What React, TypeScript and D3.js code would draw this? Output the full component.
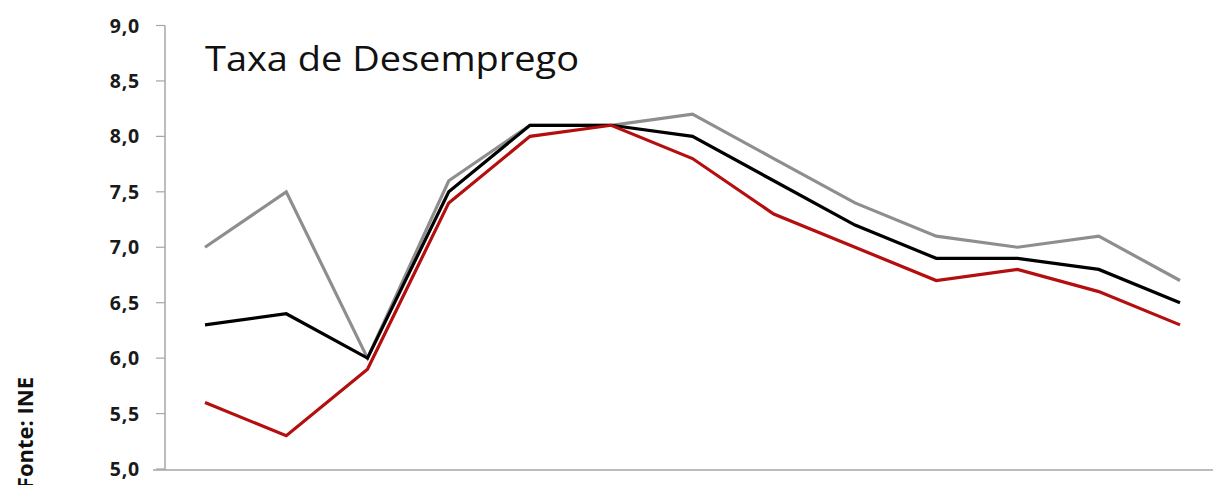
import React from "react";
import * as d3 from "d3";

const categories = ["1", "2", "3", "4", "5", "6", "7", "8", "9", "10", "11", "12", "13"];
const seriesGray = [7.0, 7.5, 6.0, 7.6, 8.1, 8.1, 8.2, 7.8, 7.4, 7.1, 7.0, 7.1, 6.7];
const seriesBlack = [6.3, 6.4, 6.0, 7.5, 8.1, 8.1, 8.0, 7.6, 7.2, 6.9, 6.9, 6.8, 6.5];
const seriesRed = [5.6, 5.3, 5.9, 7.4, 8.0, 8.1, 7.8, 7.3, 7.0, 6.7, 6.8, 6.6, 6.3];
const yTicks = [5.0, 5.5, 6.0, 6.5, 7.0, 7.5, 8.0, 8.5, 9.0];
const title = "Taxa de Desemprego";
const source = "Fonte: INE";

const W = 1215;
const H = 485;

export default function App() {
  const x = d3.scalePoint<string>().domain(categories).range([205, 1180]);
  const y = d3.scaleLinear().domain([5, 9]).range([469, 25.5]);
  const line = d3
    .line<number>()
    .x((_, i) => x(categories[i]) as number)
    .y((d) => y(d));
  const fmt = (v: number) => v.toFixed(1).replace(".", ",");
  const series = [
    { data: seriesGray, color: "#8e8e8e" },
    { data: seriesBlack, color: "#000000" },
    { data: seriesRed, color: "#b40e0e" },
  ];
  const axisColor = "#a6a6a6";
  return (
    <svg
      width={W}
      height={H}
      style={{ position: "absolute", left: 0, top: 0, background: "#fff" }}
    >
      <line x1={165} x2={165} y1={y(9)} y2={470} stroke={axisColor} strokeWidth={1.5} />
      <line x1={153} x2={1213} y1={470} y2={470} stroke={axisColor} strokeWidth={1.5} />
      {yTicks.map((t) => (
        <g key={t}>
          <line x1={156} x2={165} y1={y(t)} y2={y(t)} stroke={axisColor} strokeWidth={1.2} />
          <text
            x={140}
            y={y(t)}
            dy="0.36em"
            textAnchor="end"
            fontFamily="'Open Sans', sans-serif"
            fontWeight={700}
            fontSize={19.5}
            letterSpacing={0.8}
            fill="#1a1a1a"
          >
            {fmt(t)}
          </text>
        </g>
      ))}
      <text
        x={205}
        y={71}
        fontFamily="'Open Sans', sans-serif"
        fontSize={34}
        textLength={374}
        lengthAdjust="spacingAndGlyphs"
        fill="#111"
      >
        {title}
      </text>
      <text
        transform="translate(33,377) rotate(-90)"
        textAnchor="end"
        fontFamily="'Open Sans', sans-serif"
        fontWeight={700}
        fontSize={22}
        fill="#111"
      >
        {source}
      </text>
      {series.map((s, i) => (
        <path
          key={i}
          d={line(s.data) || ""}
          fill="none"
          stroke={s.color}
          strokeWidth={3.2}
          strokeLinejoin="miter"
        />
      ))}
    </svg>
  );
}
